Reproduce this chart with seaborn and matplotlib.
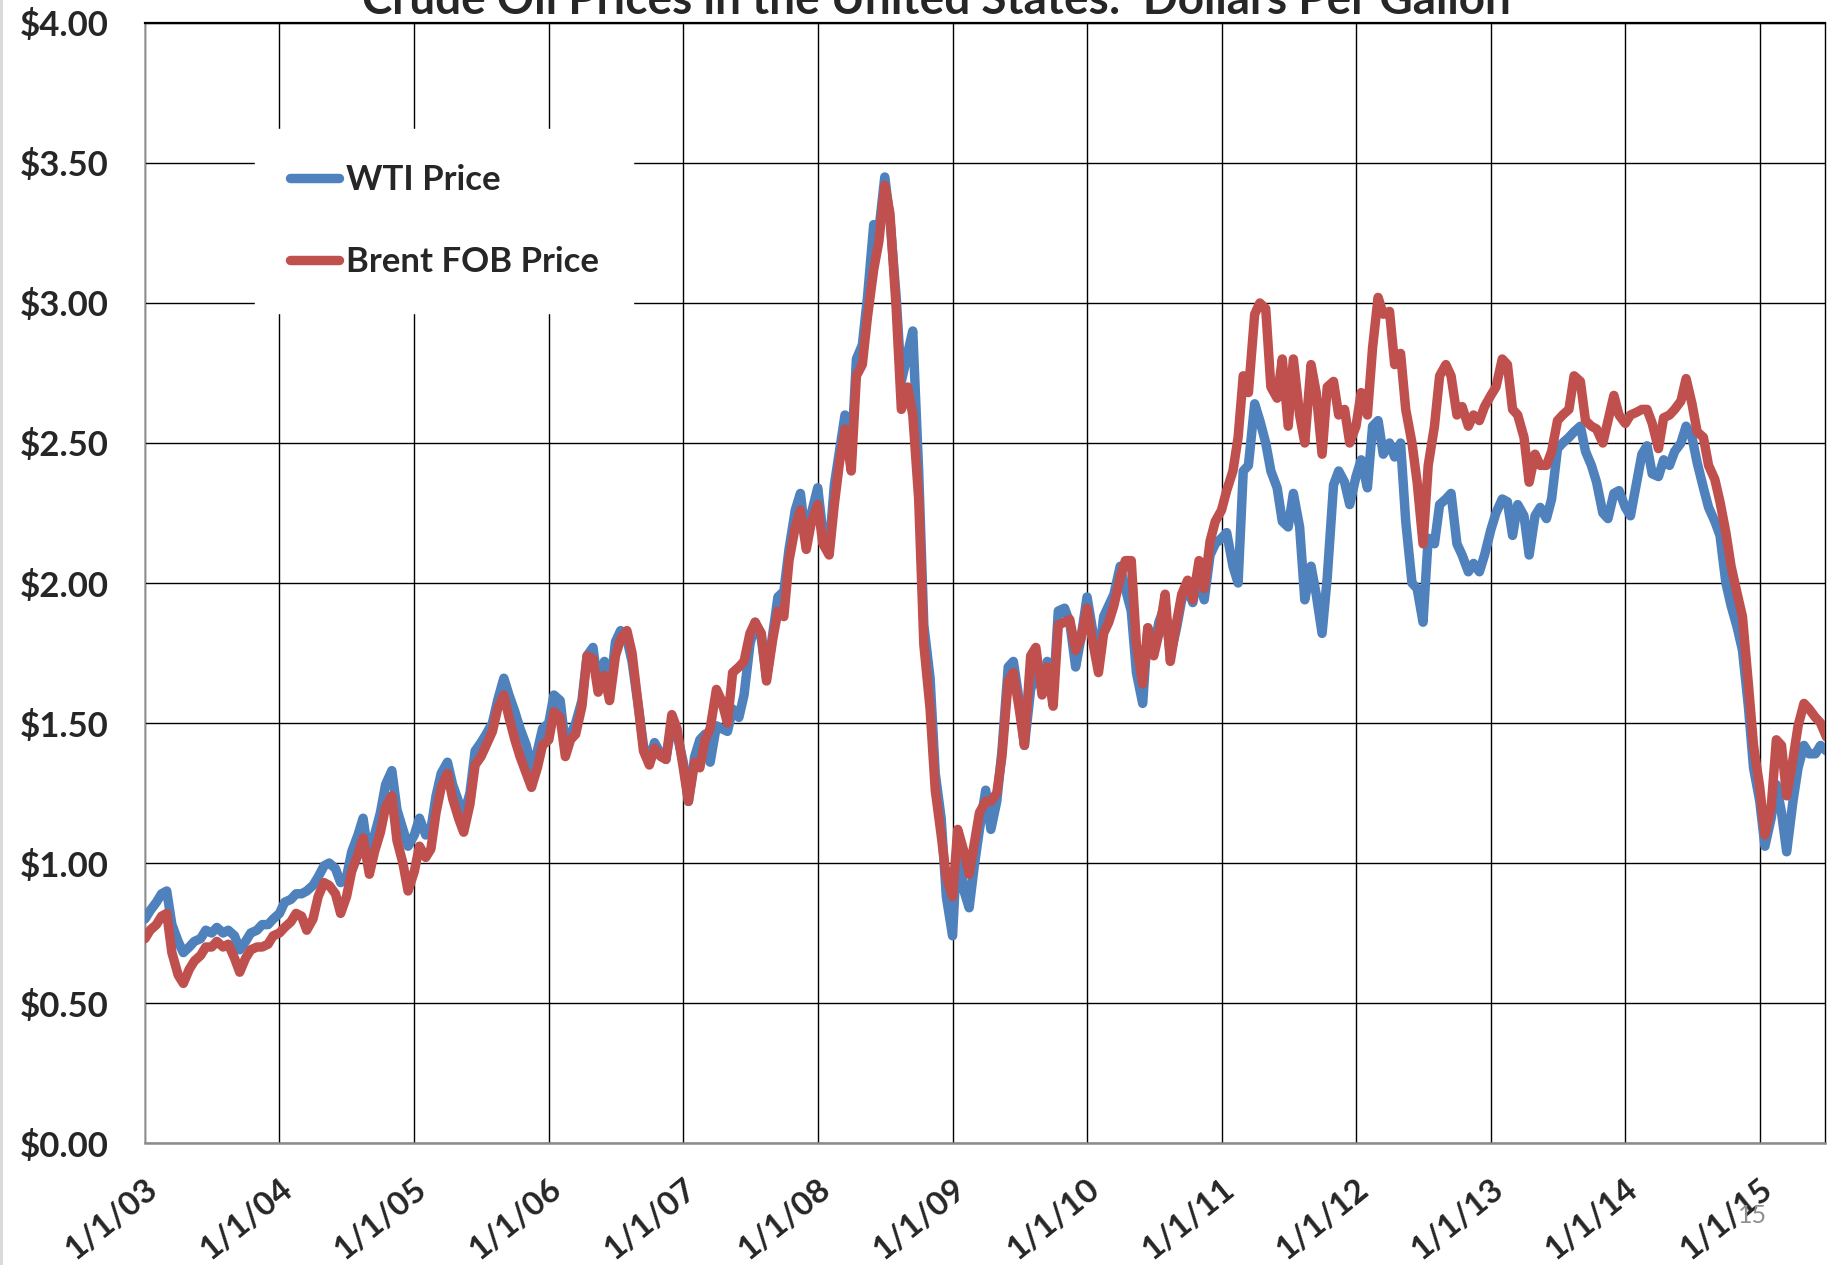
import numpy as np
import pandas as pd
import matplotlib
matplotlib.use("Agg")
import matplotlib.pyplot as plt
from matplotlib.ticker import FuncFormatter
from matplotlib.patches import Rectangle
import seaborn as sns

# ── data: dollars per gallon, read on the 1st and 15th of each month ──
wti_2003 = [0.80, 0.83, 0.86, 0.89, 0.90, 0.78, 0.72, 0.68, 0.70, 0.72, 0.73, 0.76,
            0.75, 0.77, 0.75, 0.76, 0.74, 0.69, 0.72, 0.75, 0.76, 0.78, 0.78, 0.80]
wti_2004 = [0.82, 0.86, 0.87, 0.89, 0.89, 0.90, 0.92, 0.95, 0.99, 1.00, 0.98, 0.93,
            0.95, 1.04, 1.10, 1.16, 1.00, 1.10, 1.18, 1.28, 1.33, 1.19, 1.12, 1.06]
wti_2005 = [1.10, 1.16, 1.10, 1.12, 1.24, 1.32, 1.36, 1.28, 1.22, 1.17, 1.25, 1.40,
            1.43, 1.46, 1.50, 1.58, 1.66, 1.60, 1.54, 1.48, 1.42, 1.34, 1.40, 1.48]
wti_2006 = [1.50, 1.60, 1.58, 1.42, 1.46, 1.50, 1.58, 1.74, 1.77, 1.63, 1.72, 1.60,
            1.79, 1.83, 1.80, 1.72, 1.56, 1.42, 1.36, 1.43, 1.39, 1.37, 1.50, 1.46]
wti_2007 = [1.36, 1.22, 1.38, 1.44, 1.46, 1.36, 1.49, 1.48, 1.47, 1.55, 1.52, 1.60,
            1.78, 1.86, 1.80, 1.66, 1.82, 1.95, 1.97, 2.12, 2.26, 2.32, 2.14, 2.25]
wti_2008 = [2.34, 2.18, 2.12, 2.35, 2.48, 2.60, 2.45, 2.80, 2.85, 3.02, 3.28, 3.26,
            3.45, 3.30, 3.02, 2.72, 2.82, 2.90, 2.40, 1.85, 1.66, 1.32, 1.16, 0.88]
wti_2009 = [0.74, 1.10, 0.90, 0.84, 0.99, 1.12, 1.26, 1.12, 1.22, 1.40, 1.70, 1.72,
            1.58, 1.42, 1.62, 1.68, 1.62, 1.72, 1.60, 1.90, 1.91, 1.86, 1.70, 1.80]
wti_2010 = [1.95, 1.84, 1.71, 1.88, 1.92, 1.96, 2.06, 1.98, 1.90, 1.68, 1.57, 1.84,
            1.76, 1.86, 1.92, 1.74, 1.84, 1.94, 1.98, 1.93, 2.04, 1.94, 2.10, 2.14]
wti_2011 = [2.16, 2.18, 2.06, 2.00, 2.40, 2.42, 2.64, 2.58, 2.50, 2.40, 2.34, 2.22,
            2.20, 2.32, 2.20, 1.94, 2.06, 1.96, 1.82, 2.02, 2.35, 2.40, 2.36, 2.28]
wti_2012 = [2.38, 2.44, 2.34, 2.56, 2.58, 2.46, 2.50, 2.45, 2.50, 2.22, 2.00, 1.98,
            1.86, 2.16, 2.14, 2.28, 2.30, 2.32, 2.14, 2.10, 2.04, 2.07, 2.04, 2.10]
wti_2013 = [2.19, 2.25, 2.30, 2.29, 2.17, 2.28, 2.24, 2.10, 2.24, 2.27, 2.23, 2.30,
            2.48, 2.50, 2.52, 2.54, 2.56, 2.47, 2.42, 2.36, 2.25, 2.23, 2.32, 2.33]
wti_2014 = [2.27, 2.24, 2.36, 2.46, 2.49, 2.39, 2.38, 2.44, 2.42, 2.47, 2.50, 2.56,
            2.52, 2.43, 2.34, 2.27, 2.22, 2.17, 2.00, 1.92, 1.84, 1.76, 1.56, 1.34]
wti_2015 = [1.22, 1.06, 1.16, 1.28, 1.18, 1.04, 1.22, 1.34, 1.42, 1.39, 1.39, 1.42, 1.40]

brent_2003 = [0.73, 0.76, 0.78, 0.81, 0.82, 0.68, 0.60, 0.57, 0.62, 0.65, 0.67, 0.70,
              0.70, 0.72, 0.70, 0.71, 0.66, 0.61, 0.66, 0.69, 0.70, 0.70, 0.71, 0.74]
brent_2004 = [0.75, 0.77, 0.79, 0.82, 0.81, 0.76, 0.80, 0.88, 0.93, 0.92, 0.89, 0.82,
              0.88, 0.97, 1.03, 1.09, 0.96, 1.04, 1.11, 1.20, 1.24, 1.08, 1.00, 0.90]
brent_2005 = [0.97, 1.06, 1.02, 1.05, 1.18, 1.27, 1.32, 1.23, 1.16, 1.11, 1.21, 1.35,
              1.38, 1.42, 1.47, 1.55, 1.60, 1.52, 1.44, 1.38, 1.32, 1.27, 1.34, 1.42]
brent_2006 = [1.44, 1.54, 1.52, 1.38, 1.44, 1.46, 1.56, 1.74, 1.73, 1.61, 1.67, 1.58,
              1.74, 1.80, 1.83, 1.75, 1.56, 1.40, 1.35, 1.41, 1.38, 1.37, 1.53, 1.48]
brent_2007 = [1.34, 1.22, 1.36, 1.34, 1.44, 1.48, 1.62, 1.58, 1.50, 1.68, 1.70, 1.72,
              1.82, 1.86, 1.82, 1.65, 1.80, 1.90, 1.88, 2.08, 2.20, 2.26, 2.12, 2.22]
brent_2008 = [2.28, 2.14, 2.10, 2.28, 2.44, 2.55, 2.40, 2.74, 2.78, 2.95, 3.12, 3.22,
              3.42, 3.32, 2.98, 2.62, 2.70, 2.60, 2.30, 1.78, 1.55, 1.26, 1.10, 0.95]
brent_2009 = [0.88, 1.12, 1.04, 0.96, 1.07, 1.18, 1.22, 1.22, 1.25, 1.38, 1.65, 1.68,
              1.55, 1.42, 1.74, 1.77, 1.60, 1.70, 1.56, 1.85, 1.86, 1.87, 1.76, 1.80]
brent_2010 = [1.91, 1.80, 1.68, 1.82, 1.86, 1.92, 2.02, 2.08, 2.08, 1.78, 1.64, 1.84,
              1.74, 1.82, 1.96, 1.72, 1.86, 1.96, 2.01, 1.94, 2.08, 1.98, 2.15, 2.22]
brent_2011 = [2.26, 2.33, 2.40, 2.52, 2.74, 2.68, 2.96, 3.00, 2.98, 2.70, 2.66, 2.80,
              2.56, 2.80, 2.60, 2.50, 2.78, 2.68, 2.46, 2.70, 2.72, 2.60, 2.62, 2.50]
brent_2012 = [2.56, 2.68, 2.60, 2.84, 3.02, 2.96, 2.97, 2.78, 2.82, 2.62, 2.50, 2.36,
              2.14, 2.42, 2.56, 2.74, 2.78, 2.74, 2.60, 2.63, 2.56, 2.60, 2.58, 2.63]
brent_2013 = [2.67, 2.70, 2.80, 2.78, 2.62, 2.60, 2.52, 2.36, 2.46, 2.42, 2.42, 2.47,
              2.58, 2.60, 2.62, 2.74, 2.72, 2.58, 2.56, 2.55, 2.50, 2.58, 2.67, 2.60]
brent_2014 = [2.57, 2.60, 2.61, 2.62, 2.62, 2.57, 2.48, 2.59, 2.60, 2.62, 2.65, 2.73,
              2.64, 2.54, 2.52, 2.42, 2.37, 2.29, 2.18, 2.06, 1.96, 1.88, 1.64, 1.42]
brent_2015 = [1.27, 1.10, 1.20, 1.44, 1.42, 1.24, 1.37, 1.49, 1.57, 1.55, 1.52, 1.50, 1.45]

wti = wti_2003 + wti_2004 + wti_2005 + wti_2006 + wti_2007 + wti_2008 + wti_2009 \
    + wti_2010 + wti_2011 + wti_2012 + wti_2013 + wti_2014 + wti_2015
brent = brent_2003 + brent_2004 + brent_2005 + brent_2006 + brent_2007 + brent_2008 \
    + brent_2009 + brent_2010 + brent_2011 + brent_2012 + brent_2013 + brent_2014 + brent_2015
dates = pd.date_range("2003-01-01", periods=len(wti), freq="SMS")

years = list(range(2003, 2016))
tick_labels = [f"1/1/{y % 100:02d}" for y in years]
y_ticks = [0, 0.5, 1.0, 1.5, 2.0, 2.5, 3.0, 3.5, 4.0]

BLUE = "#4F81BD"
RED = "#C0504D"

sns.set_style("white")
plt.rcParams["font.family"] = ["Lato", "DejaVu Sans"]

fig = plt.figure(figsize=(18.37, 12.65), dpi=100)
ax = fig.add_axes([0.07893, 0.09644, 0.91453, 0.88538])

sns.lineplot(x=dates, y=wti, ax=ax, color=BLUE, lw=6.8, label="WTI Price",
             solid_capstyle="round", solid_joinstyle="round", zorder=3)
sns.lineplot(x=dates, y=brent, ax=ax, color=RED, lw=6.8, label="Brent FOB Price",
             solid_capstyle="round", solid_joinstyle="round", zorder=4)

ax.set_xlim(pd.Timestamp("2003-01-01"), pd.Timestamp("2015-06-27"))
ax.set_ylim(0, 4.0)
ax.set_yticks(y_ticks)
ax.yaxis.set_major_formatter(FuncFormatter(lambda v, p: f"${v:.2f}"))
ax.set_xticks([pd.Timestamp(f"{y}-01-01") for y in years])
ax.set_xticklabels(tick_labels)
ax.set_xlabel("")
ax.set_ylabel("")

ax.grid(True, color="black", lw=1.0)
ax.set_axisbelow(True)
ax.tick_params(axis="both", length=0)
ax.tick_params(axis="y", pad=26, labelsize=25)
ax.tick_params(axis="x", pad=22, labelsize=24)
for lab in ax.get_yticklabels():
    lab.set_fontweight("bold")
for lab in ax.get_xticklabels():
    lab.set_fontweight("bold")
    lab.set_rotation(39)
    lab.set_ha("right")
    lab.set_va("top")
    lab.set_rotation_mode("anchor")

ax.spines["top"].set_color("black")
ax.spines["top"].set_linewidth(1.6)
ax.spines["right"].set_color("black")
ax.spines["right"].set_linewidth(1.0)
ax.spines["left"].set_color("#a6a6a6")
ax.spines["left"].set_linewidth(1.2)
ax.spines["bottom"].set_color("#8c8c8c")
ax.spines["bottom"].set_linewidth(1.8)

leg = ax.legend(loc="upper left", bbox_to_anchor=(0.0655, 0.9054), borderaxespad=0,
                frameon=True, fancybox=False, framealpha=1, facecolor="white",
                edgecolor="white", prop={"weight": "bold", "size": 25},
                borderpad=1.0, labelspacing=1.46, handlelength=1.41, handletextpad=0.2)
leg.set_zorder(5)

# title sits partly above the slide edge
fig.text(0.51, 0.9892, "Crude Oil Prices in the United States:  Dollars Per Gallon",
         ha="center", va="baseline", fontsize=33, fontweight="bold")
# slide number
fig.text(0.946, 0.0332, "15", ha="left", va="baseline", fontsize=18, color="#8f8f8f")
# slide border on the left
fig.add_artist(Rectangle((0, 0), 3 / 1837, 1, transform=fig.transFigure,
                         facecolor="#d9d9d9", edgecolor="none"))

fig.savefig("out.png", dpi=100)
plt.close(fig)
